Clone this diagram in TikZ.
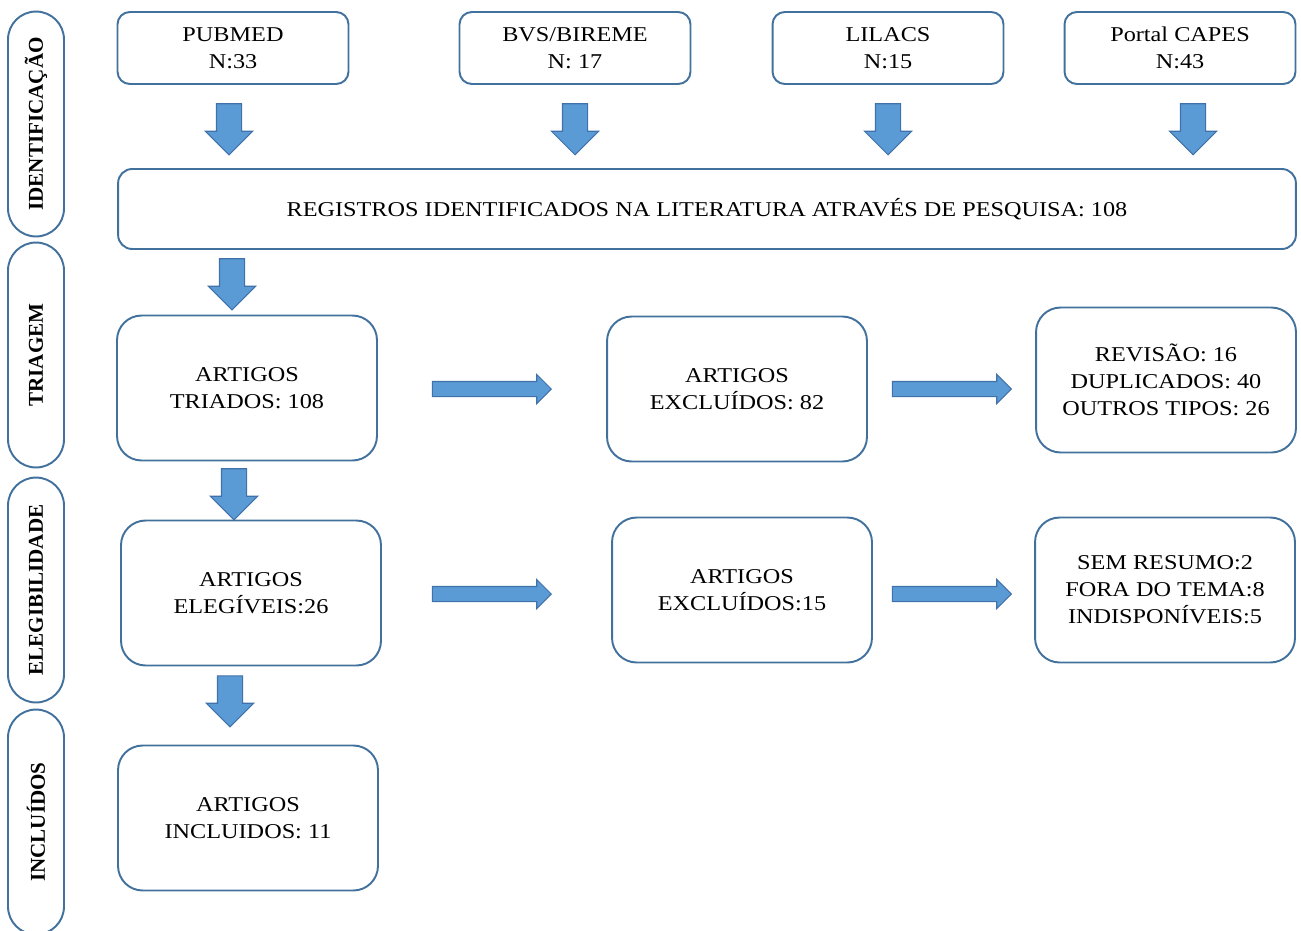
\documentclass[tikz,border=0pt]{standalone}
\usepackage{fontspec}
\setmainfont[FakeStretch=1.15]{Liberation Serif}
\newfontfamily\phasefont{Liberation Serif}
\usepackage{xcolor}
\usepackage{tikz}
\usetikzlibrary{shapes.arrows,shapes.misc}

\definecolor{boxline}{RGB}{65,113,156}
\definecolor{arrowfill}{RGB}{91,155,213}
\definecolor{arrowline}{RGB}{65,113,170}

\tikzset{
  txt/.style={font=\fontsize{12}{15.4}\selectfont, align=center, inner sep=0pt},
  srcbox/.style={txt, draw=boxline, line width=1.1pt, rounded corners=7pt,
    minimum width=4.62cm, minimum height=1.44cm},
  widebox/.style={txt, draw=boxline, line width=1.1pt, rounded corners=8pt,
    minimum width=23.56cm, minimum height=1.6cm},
  stagebox/.style={txt, draw=boxline, line width=1.1pt, rounded corners=14pt,
    minimum width=5.2cm, minimum height=2.9cm},
  phase/.style={draw=boxline, line width=1.1pt, rounded rectangle, rotate=90,
    minimum width=4.5cm, minimum height=1.12cm, inner sep=0pt,
    font=\phasefont\fontsize{12}{14}\selectfont\bfseries},
  downarr/.style={single arrow, draw=arrowline, fill=arrowfill, line width=0.6pt,
    shape border rotate=270, minimum height=1.02cm, minimum width=0.92cm,
    single arrow head extend=0.22cm, inner sep=0.24cm},
  rightarr/.style={single arrow, draw=arrowline, fill=arrowfill, line width=0.6pt,
    minimum height=2.38cm, minimum width=0.56cm,
    single arrow head extend=0.14cm, inner sep=0.14cm}
}

\begin{document}
\begin{tikzpicture}[x=0.02cm, y=-0.02cm]
\useasboundingbox (0,0) rectangle (1301,930);

% fases
\node[phase] (identificacao) at (36,124) {IDENTIFICAÇÃO};
\node[phase] (triagem) at (36,355) {TRIAGEM};
\node[phase] (elegibilidade) at (36,590) {ELEGIBILIDADE};
\node[phase] (incluidos) at (36,822) {INCLUÍDOS};

% bases
\node[srcbox] (pubmed) at (233,48) {PUBMED\\N:33};
\node[srcbox] (bvs) at (575,48) {BVS/BIREME\\N: 17};
\node[srcbox] (lilacs) at (888,48) {LILACS\\N:15};
\node[srcbox] (capes) at (1180,48) {Portal CAPES\\N:43};

\node[downarr] (a1) at (229,123) {};
\node[downarr] (a2) at (575,123) {};
\node[downarr] (a3) at (888,123) {};
\node[downarr] (a4) at (1193,123) {};

\node[widebox] (registros) at (707,209) {REGISTROS IDENTIFICADOS NA LITERATURA ATRAVÉS DE PESQUISA: 108};

\node[downarr] (a5) at (232,278) {};

% triagem
\node[stagebox] (triados) at (247,388) {ARTIGOS\\TRIADOS: 108};
\node[rightarr] (a6) at (488,389) {};
\node[stagebox] (excl1) at (737,389) {ARTIGOS\\EXCLUÍDOS: 82};
\node[rightarr] (a7) at (948,389) {};
\node[stagebox] (motivos1) at (1166,380) {REVISÃO: 16\\DUPLICADOS: 40\\OUTROS TIPOS: 26};

\node[downarr] (a8) at (234,488) {};

% elegibilidade
\node[stagebox] (elegiveis) at (251,593) {ARTIGOS\\ELEGÍVEIS:26};
\node[rightarr] (a9) at (488,594) {};
\node[stagebox] (excl2) at (742,590) {ARTIGOS\\EXCLUÍDOS:15};
\node[rightarr] (a10) at (948,594) {};
\node[stagebox] (motivos2) at (1165,590) {SEM RESUMO:2\\FORA DO TEMA:8\\INDISPONÍVEIS:5};

\node[downarr] (a11) at (230,695) {};

% incluidos
\node[stagebox] (finais) at (248,818) {ARTIGOS\\INCLUIDOS: 11};
\end{tikzpicture}
\end{document}
